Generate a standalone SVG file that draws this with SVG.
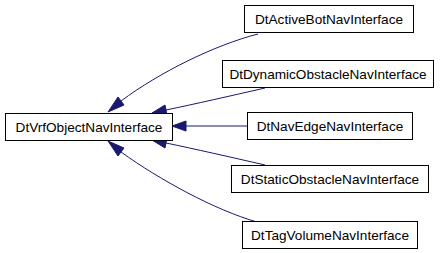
<svg xmlns="http://www.w3.org/2000/svg" width="443" height="253" viewBox="0 0 443 253">
<style>
.node rect{fill:#fff;stroke:#000;stroke-width:1}
.node text{font-family:"Liberation Sans",Arial,sans-serif;font-size:13.6px;text-anchor:middle;fill:#000}
.edge path{fill:none;stroke:#191970;stroke-width:1}
.edge polygon{fill:#191970;stroke:#191970;stroke-width:1}
</style>
<rect width="443" height="253" fill="#fff"/>
<g id="connectors" class="edge">
<path d="M258,34 C215,45 160,72 121,101"/>
<polygon points="108,112 118,97 124,105"/>
<path d="M265,88 C230,96 195,104 166,110"/>
<polygon points="152,113 165,105 167,115"/>
<path d="M247,126 L186,126"/>
<polygon points="172,126 186,121 186,131"/>
<path d="M265,165 C230,157 195,149 166,143"/>
<polygon points="152,140 167,138 165,148"/>
<path d="M257,222 C215,210 160,180 121,152"/>
<polygon points="108,141 124,148 118,156"/>
</g>
<g id="DtVrfObjectNavInterface" class="node"><rect x="5.5" y="113.5" width="167" height="27"/><text x="89" y="131.5">DtVrfObjectNavInterface</text></g>
<g id="DtActiveBotNavInterface" class="node"><rect x="244.5" y="5.5" width="169" height="27"/><text x="329" y="23.5">DtActiveBotNavInterface</text></g>
<g id="DtDynamicObstacleNavInterface" class="node"><rect x="222.5" y="60.5" width="211" height="27"/><text x="328" y="78.5">DtDynamicObstacleNavInterface</text></g>
<g id="DtNavEdgeNavInterface" class="node"><rect x="247.5" y="112.5" width="165" height="27"/><text x="330" y="130.5">DtNavEdgeNavInterface</text></g>
<g id="DtStaticObstacleNavInterface" class="node"><rect x="231.5" y="165.5" width="197" height="27"/><text x="330" y="183.5">DtStaticObstacleNavInterface</text></g>
<g id="DtTagVolumeNavInterface" class="node"><rect x="242.5" y="221.5" width="175" height="27"/><text x="330" y="239.5">DtTagVolumeNavInterface</text></g>
</svg>
